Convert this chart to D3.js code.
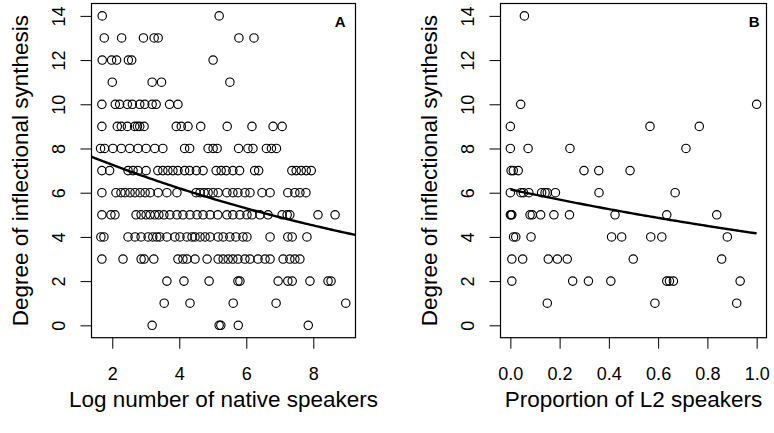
<!DOCTYPE html>
<html>
<head>
<meta charset="utf-8">
<script src="https://cdn.jsdelivr.net/npm/d3@7"></script>
<style>
body { margin: 0; background: #fff; }
text { font-family: "Liberation Sans", Arial, sans-serif; fill: #000; }
</style>
</head>
<body>
<div id="chart"></div>
<script>
// index of each list = degree of inflectional synthesis (0..14)
var logSpeakers = [
  [3.19, 5.19, 5.24, 5.76, 7.85],
  [3.55, 4.32, 5.61, 6.89, 8.97],
  [3.63, 4.14, 4.89, 5.75, 5.81, 6.95, 7.24, 7.37, 7.90, 8.44, 8.53],
  [1.69, 2.32, 2.86, 2.95, 3.24, 3.96, 4.11, 4.23, 4.47, 4.83, 5.16, 5.31, 5.46, 5.60, 5.75, 5.96, 6.11, 6.35, 6.56, 6.71, 7.10, 7.30, 7.45, 7.60],
  [1.66, 1.75, 2.47, 2.68, 2.86, 3.07, 3.21, 3.33, 3.42, 3.63, 3.87, 4.02, 4.23, 4.38, 4.47, 4.62, 4.77, 4.92, 5.16, 5.31, 5.51, 5.69, 5.90, 6.02, 6.71, 7.24, 7.37, 7.81],
  [1.69, 1.96, 2.08, 2.71, 2.86, 3.01, 3.13, 3.27, 3.39, 3.54, 3.72, 3.93, 4.11, 4.32, 4.53, 4.71, 4.92, 5.15, 5.42, 5.60, 5.81, 6.02, 6.17, 6.41, 6.65, 7.07, 7.22, 7.30, 8.14, 8.65],
  [1.69, 2.11, 2.26, 2.38, 2.53, 2.68, 2.83, 2.98, 3.13, 3.37, 3.63, 3.93, 4.50, 4.62, 4.74, 4.86, 5.01, 5.16, 5.42, 5.60, 5.75, 5.96, 6.11, 6.47, 6.71, 7.24, 7.45, 7.60, 7.78],
  [1.69, 1.92, 2.47, 2.62, 2.77, 3.01, 3.36, 3.51, 3.66, 3.81, 3.96, 4.16, 4.31, 4.51, 4.71, 5.10, 5.25, 5.40, 5.60, 5.80, 6.25, 6.37, 7.36, 7.49, 7.64, 7.79, 7.94],
  [1.65, 1.77, 2.02, 2.27, 2.52, 2.77, 3.01, 3.27, 3.51, 4.16, 4.31, 4.86, 5.01, 5.13, 5.77, 6.05, 6.20, 6.60, 6.75, 6.90],
  [1.69, 2.15, 2.27, 2.45, 2.67, 2.75, 2.82, 2.95, 3.91, 4.06, 4.26, 4.64, 5.43, 6.17, 6.80, 7.07],
  [1.69, 2.09, 2.22, 2.45, 2.60, 2.82, 2.97, 3.19, 3.31, 3.71, 3.96],
  [2.00, 3.19, 3.47, 5.51],
  [1.70, 1.98, 2.13, 2.48, 2.58, 5.01],
  [1.76, 2.28, 2.93, 3.25, 3.37, 5.78, 6.23],
  [1.70, 5.19]
];

var l2Share = [
  [],
  [0.150, 0.587, 0.919],
  [0.006, 0.253, 0.317, 0.408, 0.635, 0.646, 0.662, 0.933],
  [0.006, 0.050, 0.154, 0.191, 0.231, 0.499, 0.858],
  [0.013, 0.022, 0.084, 0.411, 0.452, 0.570, 0.615, 0.881],
  [0.000, 0.003, 0.006, 0.080, 0.089, 0.123, 0.177, 0.240, 0.425, 0.635, 0.838],
  [0.000, 0.043, 0.053, 0.075, 0.127, 0.141, 0.150, 0.183, 0.360, 0.669],
  [0.003, 0.012, 0.032, 0.299, 0.359, 0.486],
  [0.000, 0.072, 0.242, 0.713],
  [0.000, 0.567, 0.767],
  [0.042, 1.000],
  [],
  [],
  [],
  [0.057]
];

// poisson fits: exp(a + b*x)
var fitA = [2.141, -0.0791];
var fitB = [1.816, -0.391];

var yTicks = [0, 2, 4, 6, 8, 10, 12, 14];
var xTicksA = [2, 4, 6, 8];
var xTicksB = [0, 0.2, 0.4, 0.6, 0.8, 1.0];

var yLabel = 'Degree of inflectional synthesis';

var width = 774, height = 433;

var svg = d3.select('#chart').append('svg').attr('width', width).attr('height', height);

var yScale = d3.scaleLinear().domain([-0.56, 14.56]).range([337.7, 3.5]);

function flatten(rows) {
  var out = [];
  rows.forEach(function (xs, deg) {
    xs.forEach(function (x) { out.push({ x: x, y: deg }); });
  });
  return out;
}

function panel(opts) {
  var xScale = d3.scaleLinear().domain(opts.domain).range(opts.range);
  var left = opts.range[0], right = opts.range[1];
  var top = yScale.range()[1], bottom = yScale.range()[0];
  var g = svg.append('g');

  // points
  g.append('g').selectAll('circle').data(flatten(opts.rows)).enter().append('circle')
    .attr('cx', function (d) { return xScale(d.x); })
    .attr('cy', function (d) { return yScale(d.y); })
    .attr('r', 4.2)
    .style('fill', 'none').style('stroke', '#000').style('stroke-width', 1.15);

  // fitted curve
  var lo = opts.fitRange[0], hi = opts.fitRange[1];
  var curve = d3.range(0, 101).map(function (i) {
    var x = lo + (hi - lo) * i / 100;
    return [x, Math.exp(opts.fit[0] + opts.fit[1] * x)];
  });
  g.append('path').datum(curve)
    .attr('d', d3.line().x(function (d) { return xScale(d[0]); }).y(function (d) { return yScale(d[1]); }))
    .style('fill', 'none').style('stroke', '#000').style('stroke-width', 2.4);

  // box
  g.append('rect').attr('x', left).attr('y', top).attr('width', right - left).attr('height', bottom - top)
    .style('fill', 'none').style('stroke', '#000').style('stroke-width', 1.2);

  // x axis
  var xAxis = d3.axisBottom(xScale).tickValues(opts.xTicks).tickSize(11).tickSizeOuter(0).tickPadding(19)
    .tickFormat(opts.xFormat);
  var gx = g.append('g').attr('transform', 'translate(0,' + bottom + ')').call(xAxis);
  gx.select('.domain').remove();
  gx.selectAll('line').style('stroke', '#000');
  gx.selectAll('text').style('font-size', '18px').attr('font-family', null);

  // y axis, rotated labels like R
  var yAxis = d3.axisLeft(yScale).tickValues(yTicks).tickSize(11).tickSizeOuter(0);
  var gy = g.append('g').attr('transform', 'translate(' + left + ',0)').call(yAxis);
  gy.select('.domain').remove();
  gy.selectAll('line').style('stroke', '#000');
  gy.selectAll('text').attr('x', null).attr('dy', null)
    .attr('transform', 'translate(-27,0) rotate(-90)')
    .attr('text-anchor', 'middle')
    .style('font-size', '18px');

  // titles
  g.append('text').attr('x', (left + right) / 2).attr('y', 407)
    .attr('text-anchor', 'middle').style('font-size', '22.5px').text(opts.xLabel);
  g.append('text').attr('transform', 'translate(' + (left - 64) + ',' + ((top + bottom) / 2) + ') rotate(-90)')
    .attr('text-anchor', 'middle').style('font-size', '22.5px').text(yLabel);

  // panel letter
  g.append('text').attr('x', right - opts.letterInset).attr('y', 27)
    .attr('text-anchor', 'end').style('font-size', '15px').style('font-weight', 'bold').text(opts.letter);
}

panel({
  rows: logSpeakers, domain: [1.38, 9.26], range: [91.5, 355.5],
  xTicks: xTicksA, xFormat: d3.format('d'), fit: fitA, fitRange: [1.38, 9.26],
  xLabel: 'Log number of native speakers', letter: 'A', letterInset: 10
});

panel({
  rows: l2Share, domain: [-0.04, 1.04], range: [500.5, 766.5],
  xTicks: xTicksB, xFormat: d3.format('.1f'), fit: fitB, fitRange: [0, 1],
  xLabel: 'Proportion of L2 speakers', letter: 'B', letterInset: 7
});
</script>
</body>
</html>
